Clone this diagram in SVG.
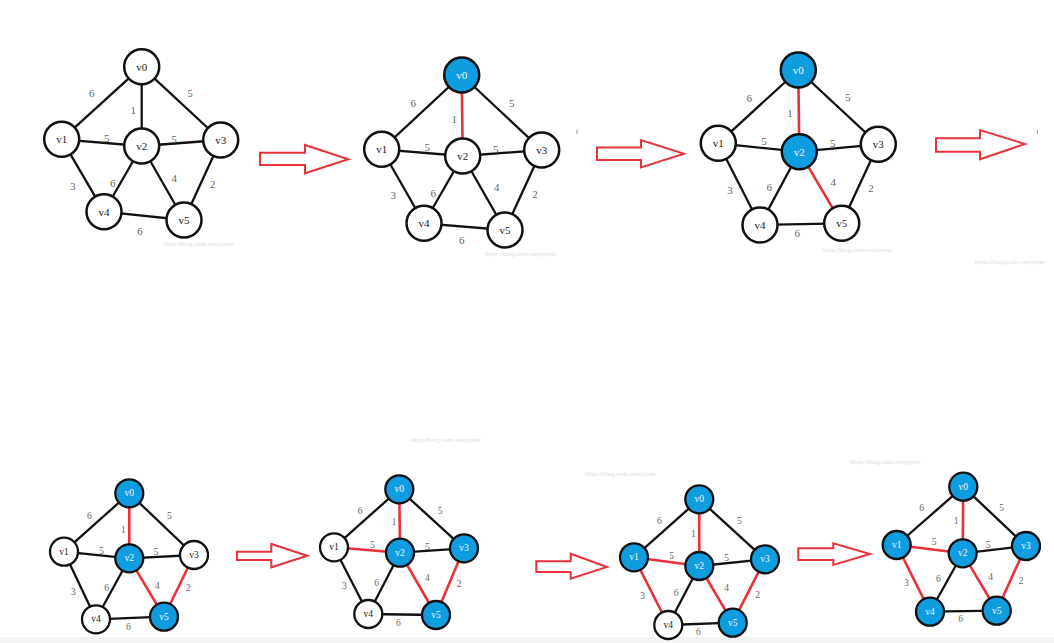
<svg xmlns="http://www.w3.org/2000/svg" width="1054" height="643" viewBox="0 0 1054 643">
<style>
.n{fill:#fff;stroke:#111;stroke-width:2.5}
.nb{fill:#0f9de0;stroke:#111;stroke-width:2.5}
.e{stroke:#111;stroke-width:2.3;fill:none}
.r{stroke:#e8313a;stroke-width:2.6;fill:none}
.t{font-family:"Liberation Serif",serif;font-size:11px;fill:#222;text-anchor:middle;dominant-baseline:central}
.tw{font-family:"Liberation Serif",serif;font-size:11px;fill:#eef6fb;text-anchor:middle;dominant-baseline:central}
.w{font-family:"Liberation Serif",serif;font-size:11px;fill:#666;text-anchor:middle;dominant-baseline:central}
.s .t,.s .tw,.s .w{font-size:9.5px}
.s .n,.s .nb{stroke-width:2.3}
.arr{fill:#fff;stroke:#e8333b;stroke-width:2;stroke-linejoin:miter}
.wm{font-family:"Liberation Sans",sans-serif;font-size:6px;fill:#dcdcdc}
.mk{stroke:#999;stroke-width:1}
</style>
<rect width="1054" height="643" fill="#fff"/>
<rect x="0" y="637" width="1054" height="6" fill="#f3f3f3"/>

<!-- Graph 1 -->
<g id="graph1">
<g id="graph1-connectors">
<line class="e" x1="141.7" y1="66.7" x2="61.7" y2="139.3"/>
<line class="e" x1="141.7" y1="66.7" x2="141.7" y2="146"/>
<line class="e" x1="141.7" y1="66.7" x2="220.7" y2="140"/>
<line class="e" x1="61.7" y1="139.3" x2="141.7" y2="146"/>
<line class="e" x1="141.7" y1="146" x2="220.7" y2="140"/>
<line class="e" x1="61.7" y1="139.3" x2="104" y2="211.7"/>
<line class="e" x1="141.7" y1="146" x2="104" y2="211.7"/>
<line class="e" x1="141.7" y1="146" x2="184" y2="220"/>
<line class="e" x1="220.7" y1="140" x2="184" y2="220"/>
<line class="e" x1="104" y1="211.7" x2="184" y2="220"/>
<text class="w" x="91.7" y="93.3">6</text>
<text class="w" x="133.3" y="110">1</text>
<text class="w" x="190" y="93.3">5</text>
<text class="w" x="106.7" y="138.3">5</text>
<text class="w" x="174" y="139.3">5</text>
<text class="w" x="72.7" y="186">3</text>
<text class="w" x="112.7" y="182.7">6</text>
<text class="w" x="174.3" y="177.7">4</text>
<text class="w" x="212.7" y="184">2</text>
<text class="w" x="140" y="230.7">6</text>
</g>
<g id="graph1-v0"><circle class="n" cx="141.7" cy="66.7" r="17.5"/><text class="t" x="141.7" y="66.7">v0</text></g>
<g id="graph1-v1"><circle class="n" cx="61.7" cy="139.3" r="17.5"/><text class="t" x="61.7" y="139.3">v1</text></g>
<g id="graph1-v2"><circle class="n" cx="141.7" cy="146" r="17.5"/><text class="t" x="141.7" y="146">v2</text></g>
<g id="graph1-v3"><circle class="n" cx="220.7" cy="140" r="17.5"/><text class="t" x="220.7" y="140">v3</text></g>
<g id="graph1-v4"><circle class="n" cx="104" cy="211.7" r="17.5"/><text class="t" x="104" y="211.7">v4</text></g>
<g id="graph1-v5"><circle class="n" cx="184" cy="220" r="17.5"/><text class="t" x="184" y="220">v5</text></g>
</g>

<!-- Graph 2 -->
<g id="graph2">
<g id="graph2-connectors">
<line class="e" x1="461.7" y1="75" x2="381.7" y2="149.3"/>
<line class="r" x1="461.7" y1="75" x2="462.7" y2="156"/>
<line class="e" x1="461.7" y1="75" x2="541.7" y2="150"/>
<line class="e" x1="381.7" y1="149.3" x2="462.7" y2="156"/>
<line class="e" x1="462.7" y1="156" x2="541.7" y2="150"/>
<line class="e" x1="381.7" y1="149.3" x2="424" y2="223.3"/>
<line class="e" x1="462.7" y1="156" x2="424" y2="223.3"/>
<line class="e" x1="462.7" y1="156" x2="505" y2="230"/>
<line class="e" x1="541.7" y1="150" x2="505" y2="230"/>
<line class="e" x1="424" y1="223.3" x2="505" y2="230"/>
<text class="w" x="413.3" y="102.7">6</text>
<text class="w" x="454.3" y="119.3">1</text>
<text class="w" x="511.7" y="103.3">5</text>
<text class="w" x="427.3" y="146.7">5</text>
<text class="w" x="495.7" y="148.7">5</text>
<text class="w" x="393.3" y="195">3</text>
<text class="w" x="433.3" y="192.7">6</text>
<text class="w" x="496.7" y="186.7">4</text>
<text class="w" x="535" y="194">2</text>
<text class="w" x="461.7" y="240">6</text>
</g>
<g id="graph2-v0"><circle class="nb" cx="461.7" cy="75" r="17.5"/><text class="tw" x="461.7" y="75">v0</text></g>
<g id="graph2-v1"><circle class="n" cx="381.7" cy="149.3" r="17.5"/><text class="t" x="381.7" y="149.3">v1</text></g>
<g id="graph2-v2"><circle class="n" cx="462.7" cy="156" r="17.5"/><text class="t" x="462.7" y="156">v2</text></g>
<g id="graph2-v3"><circle class="n" cx="541.7" cy="150" r="17.5"/><text class="t" x="541.7" y="150">v3</text></g>
<g id="graph2-v4"><circle class="n" cx="424" cy="223.3" r="17.5"/><text class="t" x="424" y="223.3">v4</text></g>
<g id="graph2-v5"><circle class="n" cx="505" cy="230" r="17.5"/><text class="t" x="505" y="230">v5</text></g>
</g>

<!-- Graph 3 -->
<g id="graph3">
<g id="graph3-connectors">
<line class="e" x1="798.3" y1="70" x2="718.3" y2="143.3"/>
<line class="r" x1="798.3" y1="70" x2="799.3" y2="151.7"/>
<line class="e" x1="798.3" y1="70" x2="878.3" y2="144.3"/>
<line class="e" x1="718.3" y1="143.3" x2="799.3" y2="151.7"/>
<line class="e" x1="799.3" y1="151.7" x2="878.3" y2="144.3"/>
<line class="e" x1="718.3" y1="143.3" x2="760" y2="225"/>
<line class="e" x1="799.3" y1="151.7" x2="760" y2="225"/>
<line class="r" x1="799.3" y1="151.7" x2="841.7" y2="223.3"/>
<line class="e" x1="878.3" y1="144.3" x2="841.7" y2="223.3"/>
<line class="e" x1="760" y1="225" x2="841.7" y2="223.3"/>
<text class="w" x="749.3" y="97.7">6</text>
<text class="w" x="790" y="113.3">1</text>
<text class="w" x="847.7" y="96.7">5</text>
<text class="w" x="764" y="141">5</text>
<text class="w" x="832.7" y="142.7">5</text>
<text class="w" x="730" y="190">3</text>
<text class="w" x="769.3" y="186.7">6</text>
<text class="w" x="833.3" y="181.7">4</text>
<text class="w" x="871" y="187.7">2</text>
<text class="w" x="797.3" y="233.3">6</text>
</g>
<g id="graph3-v0"><circle class="nb" cx="798.3" cy="70" r="17.5"/><text class="tw" x="798.3" y="70">v0</text></g>
<g id="graph3-v1"><circle class="n" cx="718.3" cy="143.3" r="17.5"/><text class="t" x="718.3" y="143.3">v1</text></g>
<g id="graph3-v2"><circle class="nb" cx="799.3" cy="151.7" r="17.5"/><text class="tw" x="799.3" y="151.7">v2</text></g>
<g id="graph3-v3"><circle class="n" cx="878.3" cy="144.3" r="17.5"/><text class="t" x="878.3" y="144.3">v3</text></g>
<g id="graph3-v4"><circle class="n" cx="760" cy="225" r="17.5"/><text class="t" x="760" y="225">v4</text></g>
<g id="graph3-v5"><circle class="n" cx="841.7" cy="223.3" r="17.5"/><text class="t" x="841.7" y="223.3">v5</text></g>
</g>

<!-- Graph 4 -->
<g id="graph4" class="s">
<g id="graph4-connectors">
<line class="e" x1="129.3" y1="493.3" x2="64" y2="551.7"/>
<line class="r" x1="129.3" y1="493.3" x2="129.3" y2="558.3"/>
<line class="e" x1="129.3" y1="493.3" x2="194" y2="555"/>
<line class="e" x1="64" y1="551.7" x2="129.3" y2="558.3"/>
<line class="e" x1="129.3" y1="558.3" x2="194" y2="555"/>
<line class="e" x1="64" y1="551.7" x2="96" y2="619.3"/>
<line class="e" x1="129.3" y1="558.3" x2="96" y2="619.3"/>
<line class="r" x1="129.3" y1="558.3" x2="164" y2="616.7"/>
<line class="r" x1="194" y1="555" x2="164" y2="616.7"/>
<line class="e" x1="96" y1="619.3" x2="164" y2="616.7"/>
<text class="w" x="89.3" y="516">6</text>
<text class="w" x="123.3" y="530">1</text>
<text class="w" x="169.3" y="516">5</text>
<text class="w" x="101.7" y="550.7">5</text>
<text class="w" x="156" y="551.7">5</text>
<text class="w" x="73.3" y="591.7">3</text>
<text class="w" x="106.7" y="588.3">6</text>
<text class="w" x="157.3" y="585.7">4</text>
<text class="w" x="188.3" y="588.3">2</text>
<text class="w" x="128.3" y="627.3">6</text>
</g>
<g id="graph4-v0"><circle class="nb" cx="129.3" cy="493.3" r="14"/><text class="tw" x="129.3" y="493.3">v0</text></g>
<g id="graph4-v1"><circle class="n" cx="64" cy="551.7" r="14"/><text class="t" x="64" y="551.7">v1</text></g>
<g id="graph4-v2"><circle class="nb" cx="129.3" cy="558.3" r="14"/><text class="tw" x="129.3" y="558.3">v2</text></g>
<g id="graph4-v3"><circle class="n" cx="194" cy="555" r="14"/><text class="t" x="194" y="555">v3</text></g>
<g id="graph4-v4"><circle class="n" cx="96" cy="619.3" r="14"/><text class="t" x="96" y="619.3">v4</text></g>
<g id="graph4-v5"><circle class="nb" cx="164" cy="616.7" r="14"/><text class="tw" x="164" y="616.7">v5</text></g>
</g>

<!-- Graph 5 -->
<g id="graph5" class="s">
<g id="graph5-connectors">
<line class="e" x1="399.3" y1="489.3" x2="334" y2="547.3"/>
<line class="r" x1="399.3" y1="489.3" x2="400" y2="552.7"/>
<line class="e" x1="399.3" y1="489.3" x2="464" y2="548.3"/>
<line class="r" x1="334" y1="547.3" x2="400" y2="552.7"/>
<line class="e" x1="400" y1="552.7" x2="464" y2="548.3"/>
<line class="e" x1="334" y1="547.3" x2="368.3" y2="614"/>
<line class="e" x1="400" y1="552.7" x2="368.3" y2="614"/>
<line class="r" x1="400" y1="552.7" x2="436" y2="615"/>
<line class="r" x1="464" y1="548.3" x2="436" y2="615"/>
<line class="e" x1="368.3" y1="614" x2="436" y2="615"/>
<text class="w" x="360" y="510.7">6</text>
<text class="w" x="394" y="521.7">1</text>
<text class="w" x="440" y="510.7">5</text>
<text class="w" x="372.7" y="545">5</text>
<text class="w" x="427.3" y="547.3">5</text>
<text class="w" x="344.3" y="586">3</text>
<text class="w" x="376.7" y="582.7">6</text>
<text class="w" x="427.3" y="578.3">4</text>
<text class="w" x="459" y="584">2</text>
<text class="w" x="398.3" y="622.7">6</text>
</g>
<g id="graph5-v0"><circle class="nb" cx="399.3" cy="489.3" r="14"/><text class="tw" x="399.3" y="489.3">v0</text></g>
<g id="graph5-v1"><circle class="n" cx="334" cy="547.3" r="14"/><text class="t" x="334" y="547.3">v1</text></g>
<g id="graph5-v2"><circle class="nb" cx="400" cy="552.7" r="14"/><text class="tw" x="400" y="552.7">v2</text></g>
<g id="graph5-v3"><circle class="nb" cx="464" cy="548.3" r="14"/><text class="tw" x="464" y="548.3">v3</text></g>
<g id="graph5-v4"><circle class="n" cx="368.3" cy="614" r="14"/><text class="t" x="368.3" y="614">v4</text></g>
<g id="graph5-v5"><circle class="nb" cx="436" cy="615" r="14"/><text class="tw" x="436" y="615">v5</text></g>
</g>

<!-- Graph 6 -->
<g id="graph6" class="s">
<g id="graph6-connectors">
<line class="e" x1="699.3" y1="499.3" x2="634" y2="557.3"/>
<line class="r" x1="699.3" y1="499.3" x2="699.3" y2="566"/>
<line class="e" x1="699.3" y1="499.3" x2="765" y2="559.3"/>
<line class="r" x1="634" y1="557.3" x2="699.3" y2="566"/>
<line class="e" x1="699.3" y1="566" x2="765" y2="559.3"/>
<line class="r" x1="634" y1="557.3" x2="668.3" y2="625"/>
<line class="e" x1="699.3" y1="566" x2="668.3" y2="625"/>
<line class="r" x1="699.3" y1="566" x2="732.7" y2="622.7"/>
<line class="r" x1="765" y1="559.3" x2="732.7" y2="622.7"/>
<line class="e" x1="668.3" y1="625" x2="732.7" y2="622.7"/>
<text class="w" x="659.3" y="520.7">6</text>
<text class="w" x="693.3" y="534">1</text>
<text class="w" x="739.3" y="520.7">5</text>
<text class="w" x="671.7" y="556">5</text>
<text class="w" x="726.7" y="558.3">5</text>
<text class="w" x="642.7" y="596">3</text>
<text class="w" x="676" y="593.3">6</text>
<text class="w" x="726.7" y="588.3">4</text>
<text class="w" x="757.7" y="595">2</text>
<text class="w" x="698.3" y="632.3">6</text>
</g>
<g id="graph6-v0"><circle class="nb" cx="699.3" cy="499.3" r="14"/><text class="tw" x="699.3" y="499.3">v0</text></g>
<g id="graph6-v1"><circle class="nb" cx="634" cy="557.3" r="14"/><text class="tw" x="634" y="557.3">v1</text></g>
<g id="graph6-v2"><circle class="nb" cx="699.3" cy="566" r="14"/><text class="tw" x="699.3" y="566">v2</text></g>
<g id="graph6-v3"><circle class="nb" cx="765" cy="559.3" r="14"/><text class="tw" x="765" y="559.3">v3</text></g>
<g id="graph6-v4"><circle class="n" cx="668.3" cy="625" r="14"/><text class="t" x="668.3" y="625">v4</text></g>
<g id="graph6-v5"><circle class="nb" cx="732.7" cy="622.7" r="14"/><text class="tw" x="732.7" y="622.7">v5</text></g>
</g>

<!-- Graph 7 -->
<g id="graph7" class="s">
<g id="graph7-connectors">
<line class="e" x1="963.3" y1="486.7" x2="896.7" y2="545"/>
<line class="r" x1="963.3" y1="486.7" x2="962.7" y2="553.3"/>
<line class="e" x1="963.3" y1="486.7" x2="1026" y2="546"/>
<line class="r" x1="896.7" y1="545" x2="962.7" y2="553.3"/>
<line class="e" x1="962.7" y1="553.3" x2="1026" y2="546"/>
<line class="r" x1="896.7" y1="545" x2="930" y2="611.7"/>
<line class="e" x1="962.7" y1="553.3" x2="930" y2="611.7"/>
<line class="r" x1="962.7" y1="553.3" x2="996.7" y2="610.7"/>
<line class="r" x1="1026" y1="546" x2="996.7" y2="610.7"/>
<line class="e" x1="930" y1="611.7" x2="996.7" y2="610.7"/>
<text class="w" x="921.7" y="508.3">6</text>
<text class="w" x="956" y="520.7">1</text>
<text class="w" x="1001.7" y="508.3">5</text>
<text class="w" x="934" y="541.7">5</text>
<text class="w" x="988.3" y="545">5</text>
<text class="w" x="906.7" y="583.3">3</text>
<text class="w" x="938.3" y="579.3">6</text>
<text class="w" x="990.7" y="577.3">4</text>
<text class="w" x="1021" y="580.7">2</text>
<text class="w" x="960.7" y="619.3">6</text>
</g>
<g id="graph7-v0"><circle class="nb" cx="963.3" cy="486.7" r="14"/><text class="tw" x="963.3" y="486.7">v0</text></g>
<g id="graph7-v1"><circle class="nb" cx="896.7" cy="545" r="14"/><text class="tw" x="896.7" y="545">v1</text></g>
<g id="graph7-v2"><circle class="nb" cx="962.7" cy="553.3" r="14"/><text class="tw" x="962.7" y="553.3">v2</text></g>
<g id="graph7-v3"><circle class="nb" cx="1026" cy="546" r="14"/><text class="tw" x="1026" y="546">v3</text></g>
<g id="graph7-v4"><circle class="nb" cx="930" cy="611.7" r="14"/><text class="tw" x="930" y="611.7">v4</text></g>
<g id="graph7-v5"><circle class="nb" cx="996.7" cy="610.7" r="14"/><text class="tw" x="996.7" y="610.7">v5</text></g>
</g>

<!-- Step arrows -->
<g id="arrows">
<polygon class="arr" points="260,152.7 305,152.7 305,145 348.3,159.3 305,173.3 305,165 260,165"/>
<polygon class="arr" points="597,147.5 641,147.5 641,140 684,153.8 641,167.5 641,160 597,160"/>
<polygon class="arr" points="936,138.3 980,138.3 980,130 1025,144 980,159.3 980,151.7 936,151.7"/>
<polygon class="arr" points="237,551.7 271.3,551.7 271.3,544 307.3,555.7 271.3,567.3 271.3,560 237,560"/>
<polygon class="arr" points="536.3,561.3 570.7,561.3 570.7,553.7 607,567 570.7,578.7 570.7,572 536.3,572"/>
<polygon class="arr" points="798.3,548.3 833.3,548.3 833.3,543.3 870,554 833.3,565 833.3,560 798.3,560"/>
</g>

<!-- stray marks and faint watermarks -->
<line class="mk" x1="577" y1="129.5" x2="577" y2="134"/>
<line class="mk" x1="1037.3" y1="129.5" x2="1037.3" y2="134"/>
<text class="wm" x="163" y="246">https://blog.csdn.net/yyzsir</text>
<text class="wm" x="485" y="256">https://blog.csdn.net/yyzsir</text>
<text class="wm" x="822" y="252">https://blog.csdn.net/yyzsir</text>
<text class="wm" x="975" y="264">https://blog.csdn.net/yyzsir</text>
<text class="wm" x="410" y="442">https://blog.csdn.net/yyzsir</text>
<text class="wm" x="850" y="464">https://blog.csdn.net/yyzsir</text>
<text class="wm" x="585" y="476">https://blog.csdn.net/yyzsir</text>
</svg>
